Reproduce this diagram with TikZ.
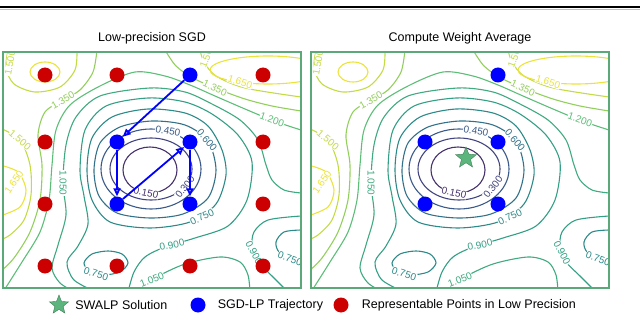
\documentclass[tikz,border=0pt]{standalone}
\usepackage{fontspec}
\setmainfont{Liberation Sans}
\usetikzlibrary{shapes.geometric,arrows.meta,positioning}
\definecolor{c150}{HTML}{46336E}
\definecolor{c300}{HTML}{42457F}
\definecolor{c450}{HTML}{3B5A89}
\definecolor{c600}{HTML}{33718B}
\definecolor{c750}{HTML}{2C8A89}
\definecolor{c900}{HTML}{33A085}
\definecolor{c1050}{HTML}{40AA80}
\definecolor{c1200}{HTML}{5DBE78}
\definecolor{c1350}{HTML}{93CF5C}
\definecolor{c1500}{HTML}{C5DB45}
\definecolor{c1650}{HTML}{ECE33A}
\definecolor{lpred}{HTML}{CC0000}
\definecolor{sgdblue}{HTML}{0000FF}
\definecolor{swagreen}{HTML}{5DB57E}
\definecolor{framegreen}{HTML}{5BA878}
\tikzset{
  contour style/.style={draw=#1, line width=1.1pt},
  clabel style/.style={text=#1, fill=white, inner sep=0.4pt, font=\fontsize{10}{10}\selectfont},
  red style/.style={circle, fill=lpred, minimum size=15pt, inner sep=0pt},
  blue style/.style={circle, fill=sgdblue, minimum size=15pt, inner sep=0pt},
  star style/.style={star, star points=5, star point ratio=2.3, fill=swagreen,
    draw=swagreen!70!black, minimum size=22pt, inner sep=0pt},
  arr style/.style={-{Triangle[open, length=8pt, width=7pt]}, line width=1.8pt, sgdblue},
  panel style/.style={draw=framegreen, line width=1.8pt},
  title style/.style={font=\fontsize{12.5}{14}\selectfont},
  legend style/.style={font=\fontsize{12.5}{14}\selectfont, inner sep=0pt},
  contour field/.pic={
    \clip (3,52) rectangle (301,288);
    % basin around the minimum
    \draw[contour style=c150] (150,170) ellipse [x radius=27, y radius=23];
    \draw[contour style=c300] (151,169) ellipse [x radius=41, y radius=31];
    \draw[contour style=c450] (151,169) ellipse [x radius=50, y radius=40];
    \draw[contour style=c600] plot[smooth cycle] coordinates {(94,170) (100,143) (120,127) (152,121)
      (185,125) (208,141) (216,170) (208,198) (183,214) (150,218) (117,213) (99,196)};
    \draw[contour style=c750] plot[smooth cycle] coordinates {(87,170) (92,138) (112,117) (148,109)
      (185,113) (208,126) (222,150) (226,175) (216,204) (190,222) (150,228) (110,222) (92,200)};
    \draw[contour style=c900] plot[smooth] coordinates {(96,292) (74,280) (67,262) (78,246) (88,224)
      (84,196) (80,170) (85,130) (106,106) (148,98) (185,102) (212,114) (238,135) (252,162)
      (247,200) (228,226) (195,238) (165,247) (145,257) (134,272) (128,292)};
    \draw[contour style=c1050] plot[smooth] coordinates {(301,193) (284,190) (272,180) (266,165)
      (258,140) (240,120) (212,104) (185,92) (150,88) (100,96) (76,117) (66,145) (63,183)
      (66,215) (58,245) (52,268) (60,283) (75,292)};
    \draw[contour style=c1050] plot[smooth] coordinates {(136,292) (155,278) (185,264) (220,257)
      (240,262) (248,275) (250,292)};
    \draw[contour style=c1200] plot[smooth] coordinates {(3,292) (22,262) (40,232) (49,200)
      (52,165) (56,130) (70,105) (100,86) (135,72) (165,76) (190,85) (215,96) (245,109)
      (274,121) (301,130)};
    % local basins at the bottom
    \draw[contour style=c750] plot[smooth cycle] coordinates {(84,263) (92,254) (108,251) (122,254)
      (128,263) (120,272) (103,275) (90,272)};
    \draw[contour style=c900] plot[smooth] coordinates {(301,216) (268,220) (254,232) (252,248)
      (258,262) (272,276) (288,292)};
    \draw[contour style=c750] plot[smooth] coordinates {(301,230) (284,232) (276,242) (280,253)
      (301,264)};
    % high corners
    \draw[contour style=c1350] plot[smooth] coordinates {(97,50) (93,72) (80,90) (63,100) (45,112)
      (38,135) (42,165) (40,200) (30,232) (14,258) (0,272)};
    \draw[contour style=c1350] plot[smooth] coordinates {(165,50) (176,66) (193,78) (215,88)
      (245,99) (272,106) (301,111)};
    \draw[contour style=c1500] plot[smooth] coordinates {(8,50) (6,68) (14,84) (35,92) (60,87)
      (75,70) (77,50)};
    \draw[contour style=c1500] plot[smooth] coordinates {(0,128) (20,140) (30,165) (31,195)
      (24,220) (10,235) (0,240)};
    \draw[contour style=c1500] plot[smooth] coordinates {(200,50) (204,62) (216,76) (245,88)
      (301,97)};
    \draw[contour style=c1650] (45,72) ellipse [x radius=15, y radius=10];
    \draw[contour style=c1650] plot[smooth] coordinates {(0,165) (18,172) (26,190) (20,207) (0,216)};
    \draw[contour style=c1650] (268,70) ellipse [x radius=58, y radius=14];
    % level labels
    \node[clabel style=c150, rotate=-12] (-l150) at (146,193) {0.150};
    \node[clabel style=c300, rotate=52] (-l300) at (185,187) {0.300};
    \node[clabel style=c450, rotate=-10] (-l450) at (168,131) {0.450};
    \node[clabel style=c600, rotate=-50] (-l600) at (207,140) {0.600};
    \node[clabel style=c750, rotate=25] (-l750) at (202,217) {0.750};
    \node[clabel style=c900, rotate=12] (-l900) at (172,245) {0.900};
    \node[clabel style=c1050, rotate=-90] (-l1050a) at (63,183) {1.050};
    \node[clabel style=c1050, rotate=22] (-l1050b) at (152,280) {1.050};
    \node[clabel style=c1200, rotate=-20] (-l1200) at (272,120) {1.200};
    \node[clabel style=c750, rotate=-18] (-l750b) at (96,274) {0.750};
    \node[clabel style=c900, rotate=-62] (-l900b) at (254,253) {0.900};
    \node[clabel style=c750, rotate=-20] (-l750c) at (290,259) {0.750};
    \node[clabel style=c1350, rotate=30] (-l1350a) at (63,100) {1.350};
    \node[clabel style=c1350, rotate=-25] (-l1350b) at (215,88) {1.350};
    \node[clabel style=c1500, rotate=80] (-l1500a) at (10,63) {1.500};
    \node[clabel style=c1500, rotate=-40] (-l1500b) at (20,140) {1.500};
    \node[clabel style=c1500, rotate=70] (-l1500c) at (207,56) {1.500};
    \node[clabel style=c1650, rotate=-18] (-l1650a) at (240,82) {1.650};
    \node[clabel style=c1650, rotate=55] (-l1650b) at (14,182) {1.650};
  }
}
\begin{document}
\begin{tikzpicture}[x=1pt, y=-1pt]
\useasboundingbox (0,0) rectangle (640,318);
\draw[line width=2.4pt] (0,7) -- (640,7);
\draw[gray!50, line width=0.8pt] (0,9.2) -- (640,9.2);

\node[title style] (lptitle) at (152,38) {Low-precision SGD};
\node[title style] (avgtitle) at (460,38) {Compute Weight Average};

\pic (L) at (0,0) {contour field};
\pic (R) at (308,0) {contour field};
\draw[panel style] (3,52) rectangle (301,288);
\draw[panel style] (311,52) rectangle (609,288);

% representable points
\foreach \gx/\gy/\nm in {45/75/r11, 117/75/r21, 263/75/r41, 45/142/r12, 263/142/r42,
  45/204/r13, 263/204/r43, 45/266/r14, 117/266/r24, 190/266/r34, 263/266/r44}
  \node[red style] (\nm) at (\gx,\gy) {};

% SGD-LP trajectory
\node[blue style] (b1) at (190,75) {};
\node[blue style] (b2) at (117,142) {};
\node[blue style] (b3) at (190,142) {};
\node[blue style] (b4) at (117,204) {};
\node[blue style] (b5) at (190,204) {};
\draw[arr style] (b1) -- (b2);
\draw[arr style] (b2) -- (b4);
\draw[arr style] (b4) -- (b3);
\draw[arr style] (b3) -- (b5);

\node[blue style] (w1) at (498,75) {};
\node[blue style] (w2) at (425,142) {};
\node[blue style] (w3) at (498,142) {};
\node[blue style] (w4) at (425,204) {};
\node[blue style] (w5) at (498,204) {};
\node[star style] (swalp) at (466,158) {};

% legend
\node[star style, minimum size=20pt] (lgstar) at (59,305) {};
\node[legend style, right=10pt of lgstar] (lgswalp) {SWALP Solution};
\node[blue style] (lgblue) at (198,305) {};
\node[legend style, right=12pt of lgblue] (lgsgd) {SGD-LP Trajectory};
\node[red style] (lgred) at (341,305) {};
\node[legend style, right=13pt of lgred] (lgrep) {Representable Points in Low Precision};
\end{tikzpicture}
\end{document}
